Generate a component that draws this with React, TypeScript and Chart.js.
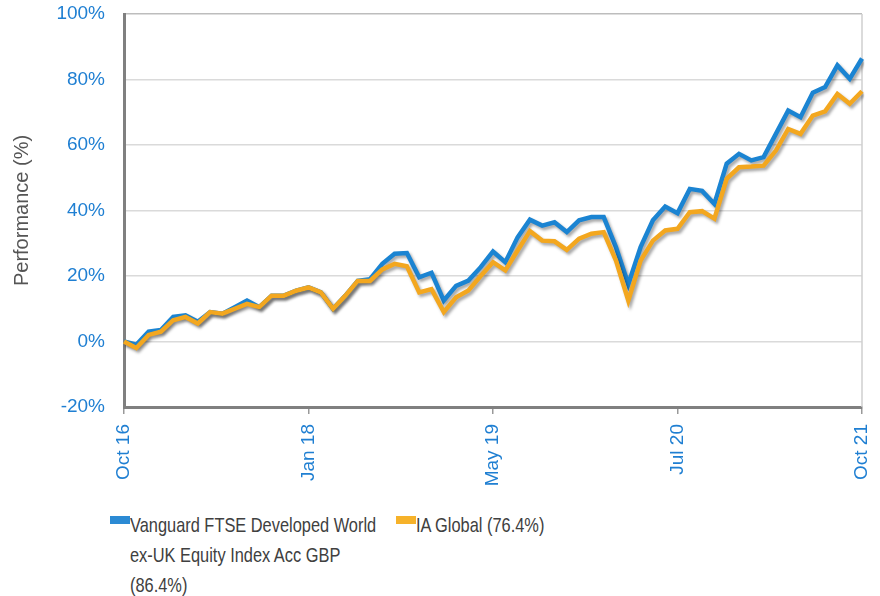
import React, { useEffect, useRef } from "react";
import { Chart, registerables } from "chart.js";

Chart.register(...registerables);

const categories: string[] = (() => {
  const m = ["Jan","Feb","Mar","Apr","May","Jun","Jul","Aug","Sep","Oct","Nov","Dec"];
  const out: string[] = [];
  for (let i = 0; i <= 60; i++) {
    const mi = (9 + i) % 12;
    const yr = 16 + Math.floor((9 + i) / 12);
    out.push(`${m[mi]} ${yr}`);
  }
  return out;
})();

const tickIndices = [0, 15, 30, 45, 60];
const tickLabels = ["Oct 16", "Jan 18", "May 19", "Jul 20", "Oct 21"];

const fundName = "Vanguard FTSE Developed World ex-UK Equity Index Acc GBP (86.4%)";
const sectorName = "IA Global (76.4%)";

const fundValues = [
  0, -1, 3, 3.5, 7.5, 8, 6, 9, 8.5, 10.5, 12.5, 10.5, 14, 14, 15.5, 16.5,
  15, 10, 14, 18.5, 19, 23.7, 26.8, 27, 19.6, 21, 12.5, 17, 18.6, 22.7,
  27.5, 24.2, 31.8, 37.2, 35.4, 36.4, 33.4, 37, 38, 38, 28.8, 17.5, 28.8,
  37, 41.2, 39.2, 46.6, 46, 42, 54.3, 57.3, 55.3, 56.3, 63.4, 70.5, 68.5,
  76, 77.7, 84.3, 80.2, 86.4,
];

const sectorValues = [
  0, -2, 2, 3, 6.5, 7.5, 5.5, 9, 8.5, 10, 11.5, 10.5, 14, 14, 15.5, 16.5,
  15, 10, 14, 18.5, 18.5, 22, 23.7, 23, 15, 16, 9, 13.5, 15.6, 20,
  24.2, 21.7, 27.8, 33.7, 30.8, 30.6, 28, 31.4, 32.9, 33.4, 24.7, 12.5, 24.7,
  30.8, 33.9, 34.4, 39.5, 39.8, 37.5, 49.7, 53.2, 53.4, 53.7, 58.3, 64.9, 63.4,
  69, 70.3, 75.6, 72.6, 76.4,
];

const BLUE = "#1b84d2";
const ORANGE = "#f3a71f";
const TICK_BLUE = "#1f7fd2";
const FONT = "'Liberation Sans', Arial, sans-serif";

const shadowPlugin = {
  id: "lineShadow",
  beforeDatasetDraw(chart: any) {
    const ctx = chart.ctx;
    ctx.save();
    ctx.shadowColor = "rgba(0,0,0,0.35)";
    ctx.shadowBlur = 3;
    ctx.shadowOffsetX = 2;
    ctx.shadowOffsetY = 2.5;
  },
  afterDatasetDraw(chart: any) {
    chart.ctx.restore();
  },
};

const rightBorderPlugin = {
  id: "rightBorder",
  beforeDatasetsDraw(chart: any) {
    const { ctx, chartArea } = chart;
    ctx.save();
    ctx.strokeStyle = "#cfcfcf";
    ctx.lineWidth = 1.5;
    ctx.beginPath();
    ctx.moveTo(chartArea.right, chartArea.top);
    ctx.lineTo(chartArea.right, chartArea.bottom);
    ctx.stroke();
    ctx.restore();
  },
};

function PerfChart() {
  const ref = useRef<HTMLCanvasElement | null>(null);
  useEffect(() => {
    if (!ref.current) return;
    const chart = new Chart(ref.current, {
      type: "line",
      data: {
        labels: categories,
        datasets: [
          {
            label: fundName,
            data: fundValues,
            borderColor: BLUE,
            backgroundColor: BLUE,
            borderWidth: 4.5,
            pointRadius: 0,
            tension: 0,
            order: 2,
          },
          {
            label: sectorName,
            data: sectorValues,
            borderColor: ORANGE,
            backgroundColor: ORANGE,
            borderWidth: 4.5,
            pointRadius: 0,
            tension: 0,
            order: 1,
          },
        ],
      },
      options: {
        animation: false,
        responsive: false,
        maintainAspectRatio: false,
        layout: { padding: { top: 14, right: 18, left: 0, bottom: 0 } },
        plugins: {
          legend: { display: false },
          tooltip: { enabled: false },
        },
        scales: {
          x: {
            type: "category",
            offset: false,
            afterBuildTicks: (scale: any) => {
              scale.ticks = scale.ticks.filter((t: any) => tickIndices.includes(t.value));
            },
            afterFit: (scale: any) => {
              scale.height = 93;
              scale.paddingLeft = 0;
              scale.paddingRight = 0;
            },
            ticks: {
              autoSkip: false,
              minRotation: 90,
              maxRotation: 90,
              color: TICK_BLUE,
              font: { family: FONT, size: 19 },
              padding: 10,
              callback: (value: any) => {
                const k = tickIndices.indexOf(Number(value));
                return k >= 0 ? tickLabels[k] : "";
              },
            },
            grid: {
              drawOnChartArea: false,
              drawTicks: true,
              tickLength: 7,
              color: "#999999",
              lineWidth: 1.5,
            },
            border: { color: "#808080", width: 3 },
          },
          y: {
            min: -20,
            max: 100,
            afterFit: (scale: any) => {
              scale.width = 124;
              scale.paddingTop = 0;
              scale.paddingBottom = 0;
            },
            ticks: {
              stepSize: 20,
              color: TICK_BLUE,
              font: { family: FONT, size: 19 },
              padding: 19,
              callback: (v: any) => `${v}%`,
            },
            grid: {
              color: (c: any) => (c.tick && c.tick.value === 100 ? "#bdbdbd" : "#dadada"),
              lineWidth: 1.5,
              drawTicks: false,
            },
            border: { color: "#808080", width: 3 },
            title: {
              display: true,
              text: "Performance (%)",
              color: "#555555",
              font: { family: FONT, size: 20, weight: "normal" },
              padding: { top: 10, bottom: 0 },
            },
          },
        },
      },
      plugins: [shadowPlugin, rightBorderPlugin],
    } as any);
    return () => chart.destroy();
  }, []);
  return (
    <canvas
      ref={ref}
      width={880}
      height={500}
      style={{ display: "block", position: "absolute", left: 0, top: 0 }}
    />
  );
}

const legendText: React.CSSProperties = {
  fontFamily: FONT,
  fontSize: 21,
  color: "#404040",
  lineHeight: "30px",
  whiteSpace: "nowrap",
  transform: "scaleX(0.78)",
  transformOrigin: "left top",
};

export default function App() {
  return (
    <div style={{ position: "absolute", left: 0, top: 0, width: 880, height: 596, background: "#fff", overflow: "hidden" }}>
      <PerfChart />
      <div style={{ position: "absolute", left: 110, top: 510, display: "flex" }}>
        <div style={{ width: 20, height: 8, background: "#2b8ad4", marginTop: 6 }} />
        <div style={legendText}>
          <div>Vanguard FTSE Developed World</div>
          <div>ex-UK Equity Index Acc GBP</div>
          <div>(86.4%)</div>
        </div>
      </div>
      <div style={{ position: "absolute", left: 396, top: 510, display: "flex" }}>
        <div style={{ width: 20, height: 8, background: "#f6b22a", marginTop: 6 }} />
        <div style={legendText}>
          <div>{sectorName}</div>
        </div>
      </div>
    </div>
  );
}
